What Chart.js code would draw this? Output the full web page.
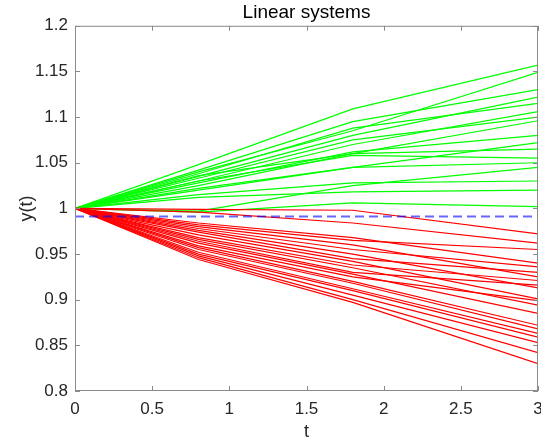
<!DOCTYPE html>
<html lang="en">
<head>
  <meta charset="UTF-8" />
  <title>Linear systems</title>
  <style>
    html, body { margin: 0; padding: 0; background: #ffffff; }
    #wrap { width: 541px; height: 445px; position: relative; }
  </style>
</head>
<body>
  <div id="wrap"><canvas id="chart"></canvas></div>

  <script src="https://cdn.jsdelivr.net/npm/chart.js"></script>
  <script>
    // sample times shared by every run
    const tSteps = [0, 0.8, 1.8, 3];

    // responses that end above 1 (green)
    const greenRuns = [
      [1, 1.048, 1.109, 1.157],
      [1, 1.040, 1.085, 1.149],
      [1, 1.042, 1.095, 1.130],
      [1, 1.035, 1.080, 1.122],
      [1, 1.038, 1.088, 1.115],
      [1, 1.030, 1.070, 1.106],
      [1, 1.033, 1.075, 1.100],
      [1, 1.025, 1.060, 1.096],
      [1, 1.028, 1.062, 1.080],
      [1, 1.020, 1.045, 1.072],
      [1, 1.036, 1.060, 1.065],
      [1, 1.030, 1.058, 1.055],
      [1, 1.022, 1.045, 1.050],
      [1, 1.015, 1.028, 1.030],
      [1, 1.012, 1.018, 1.020],
      [1, 0.996, 1.006, 1.002],
      [1, 0.997, 1.025, 1.045]
    ];

    // responses that end below 1 (red)
    const redRuns = [
      [1, 0.999, 0.998, 0.972],
      [1, 0.996, 0.984, 0.962],
      [1, 0.984, 0.968, 0.940],
      [1, 0.982, 0.965, 0.955],
      [1, 0.980, 0.960, 0.925],
      [1, 0.978, 0.955, 0.936],
      [1, 0.976, 0.950, 0.913],
      [1, 0.974, 0.945, 0.930],
      [1, 0.971, 0.942, 0.901],
      [1, 0.968, 0.938, 0.921],
      [1, 0.966, 0.935, 0.894],
      [1, 0.964, 0.930, 0.916],
      [1, 0.962, 0.928, 0.885],
      [1, 0.959, 0.925, 0.899],
      [1, 0.957, 0.920, 0.872],
      [1, 0.955, 0.918, 0.868],
      [1, 0.952, 0.912, 0.863],
      [1, 0.950, 0.910, 0.859],
      [1, 0.948, 0.905, 0.853],
      [1, 0.946, 0.900, 0.842],
      [1, 0.944, 0.897, 0.830]
    ];

    // dashed reference level
    const refLevel = 0.991;
    const xRange = [0, 3];
    const yRange = [0.8, 1.2];

    const FONT = 'Helvetica, Arial, "Liberation Sans", sans-serif';
    const AXIS = '#8a8a8a';
    const TEXT = '#262626';

    function toPoints(run) {
      return run.map((v, i) => ({ x: tSteps[i], y: v }));
    }

    // drop trailing zeros the way matlab prints its ticks
    function tickText(v) {
      return String(Math.round(v * 100) / 100);
    }

    const datasets = [];
    datasets.push({
      data: xRange.map(x => ({ x: x, y: refLevel })),
      borderColor: 'rgba(0, 0, 255, 0.6)',
      borderWidth: 2,
      borderDash: [9, 5],
      order: 0
    });
    redRuns.forEach(r => datasets.push({ data: toPoints(r), borderColor: '#ff0000', borderWidth: 1.2, order: 1 }));
    greenRuns.forEach(r => datasets.push({ data: toPoints(r), borderColor: '#00ff00', borderWidth: 1.2, order: 2 }));

    // matlab style box with inward ticks
    const boxPlugin = {
      id: 'box',
      afterDraw(chart) {
        const { ctx, chartArea: a, scales } = chart;
        const len = 5;
        ctx.save();
        ctx.strokeStyle = AXIS;
        ctx.lineWidth = 1;
        ctx.strokeRect(a.left + 0.5, a.top + 0.5, a.right - a.left - 1, a.bottom - a.top - 1);
        ctx.beginPath();
        scales.x.ticks.forEach(t => {
          const px = Math.round(scales.x.getPixelForValue(t.value)) + 0.5;
          ctx.moveTo(px, a.bottom); ctx.lineTo(px, a.bottom - len);
          ctx.moveTo(px, a.top); ctx.lineTo(px, a.top + len);
        });
        scales.y.ticks.forEach(t => {
          const py = Math.round(scales.y.getPixelForValue(t.value)) + 0.5;
          ctx.moveTo(a.left, py); ctx.lineTo(a.left + len, py);
          ctx.moveTo(a.right, py); ctx.lineTo(a.right - len, py);
        });
        ctx.stroke();
        ctx.restore();
      }
    };

    new Chart(document.getElementById('chart'), {
      type: 'line',
      data: { datasets: datasets },
      plugins: [boxPlugin],
      options: {
        responsive: true,
        maintainAspectRatio: false,
        animation: false,
        events: [],
        layout: { padding: { left: 0, right: 3, top: 0, bottom: 0 } },
        elements: { point: { radius: 0 }, line: { tension: 0 } },
        plugins: {
          legend: { display: false },
          tooltip: { enabled: false },
          title: {
            display: true,
            text: 'Linear systems',
            fullSize: false,
            color: '#000000',
            font: { family: FONT, size: 19, weight: 'normal' },
            padding: { top: 1, bottom: 2 }
          }
        },
        scales: {
          x: {
            type: 'linear',
            min: xRange[0],
            max: xRange[1],
            grid: { display: false, drawTicks: false },
            border: { display: false },
            ticks: {
              stepSize: 0.5,
              padding: 8,
              maxRotation: 0,
              autoSkip: false,
              color: TEXT,
              font: { family: FONT, size: 17 },
              callback: tickText
            },
            title: {
              display: true,
              text: 't',
              color: TEXT,
              font: { family: FONT, size: 18 },
              padding: { top: 0, bottom: 2 }
            },
            afterFit(s) { s.height = 54; s.paddingLeft = 0; s.paddingRight = 0; }
          },
          y: {
            type: 'linear',
            min: yRange[0],
            max: yRange[1],
            grid: { display: false, drawTicks: false },
            border: { display: false },
            ticks: {
              stepSize: 0.05,
              padding: 7,
              autoSkip: false,
              color: TEXT,
              font: { family: FONT, size: 17 },
              callback: tickText
            },
            title: {
              display: true,
              text: 'y(t)',
              color: TEXT,
              font: { family: FONT, size: 18 },
              padding: { top: 16, bottom: 0 }
            },
            afterFit(s) { s.width = 75; s.paddingTop = 0; s.paddingBottom = 0; }
          }
        }
      }
    });
  </script>
</body>
</html>
